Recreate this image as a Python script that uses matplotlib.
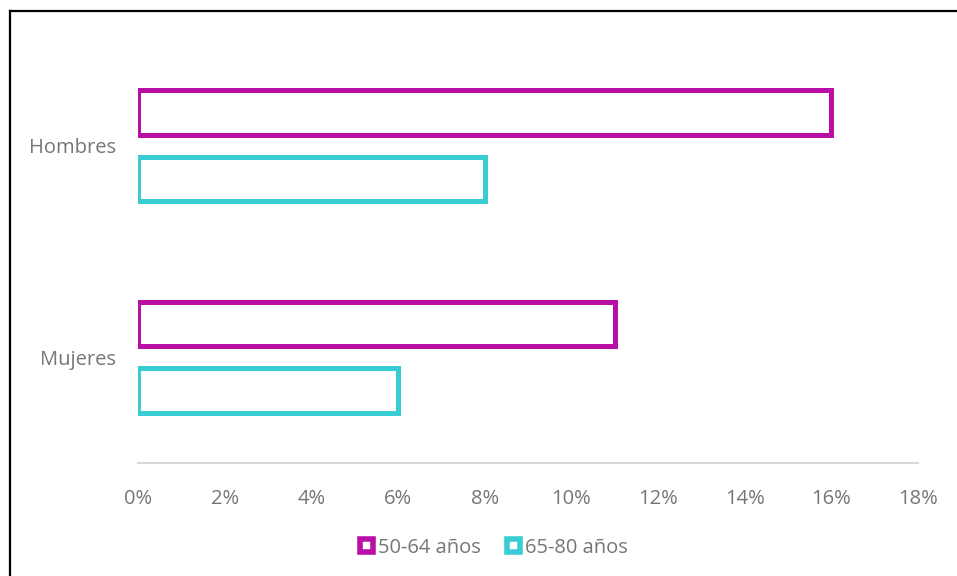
import matplotlib
matplotlib.use("Agg")
import matplotlib.pyplot as plt
from matplotlib.patches import Patch
from matplotlib.lines import Line2D
import numpy as np

categories = ["Mujeres", "Hombres"]
series_labels = ["50-64 años", "65-80 años"]
vals_50_64 = [11, 16]
vals_65_80 = [6, 8]
xticks = [0, 2, 4, 6, 8, 10, 12, 14, 16, 18]

MAG = "#BA0FA6"
CYAN = "#38CCD3"
GRAY = "#767676"
plt.rcParams["font.family"] = ["Open Sans", "DejaVu Sans"]

fig = plt.figure(figsize=(9.57, 5.76), dpi=100)
ax = fig.add_axes([0.1442, 0.1962, 0.815, 0.7344])

y = np.arange(len(categories))
h = 0.21
ax.barh(y + 0.157, vals_50_64, height=h, facecolor="white", edgecolor=MAG, linewidth=3.6)
ax.barh(y - 0.157, vals_65_80, height=h, facecolor="white", edgecolor=CYAN, linewidth=3.6)

ax.set_xlim(0, 18)
ax.set_ylim(-0.5, 1.5)
ax.set_xticks(xticks)
ax.set_xticklabels([f"{t}%" for t in xticks])
ax.set_yticks(y)
ax.set_yticklabels(categories)
ax.tick_params(axis="both", length=0, labelsize=14.5, colors=GRAY)
ax.tick_params(axis="x", pad=19)
ax.tick_params(axis="y", pad=16)
for sp in ("top", "right", "left"):
    ax.spines[sp].set_visible(False)
ax.spines["bottom"].set_color("#D9D9D9")
ax.spines["bottom"].set_linewidth(1.5)

handles = [Patch(facecolor="white", edgecolor=MAG, linewidth=4, label=series_labels[0]),
           Patch(facecolor="white", edgecolor=CYAN, linewidth=4, label=series_labels[1])]
fig.legend(handles=handles, loc="center", bbox_to_anchor=(0.516, 0.049), ncol=2, frameon=False,
           fontsize=14.5, labelcolor=GRAY, handlelength=0.65, handleheight=0.65,
           handletextpad=0.25, columnspacing=1.3)

# outer frame (left and top only)
fig.add_artist(Line2D([9.5 / 957, 9.5 / 957], [0, 1 - 10.5 / 576], color="black", lw=1.6, transform=fig.transFigure))
fig.add_artist(Line2D([9.5 / 957, 1], [1 - 10.5 / 576, 1 - 10.5 / 576], color="black", lw=1.6, transform=fig.transFigure))

fig.savefig("out.png", dpi=100)
